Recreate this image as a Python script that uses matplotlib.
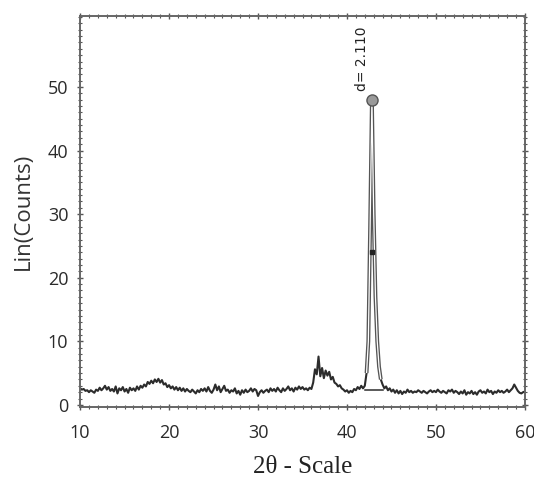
import numpy as np
import matplotlib
matplotlib.use("Agg")
import matplotlib.pyplot as plt
from matplotlib.ticker import MultipleLocator

# XRD scan, 10-60 deg 2theta, 0.2 deg step
two_theta = np.linspace(10, 60, 251)
counts = [
    2.6, 2.4, 2.5, 2.2, 2.3,   # 10
    2.0, 2.3, 2.1, 1.9, 2.4,   # 11
    2.2, 2.7, 2.3, 2.6, 3.0,   # 12
    2.4, 2.8, 2.2, 2.5, 2.1,   # 13
    2.9, 1.8, 2.6, 2.3, 2.8,   # 14
    2.1, 2.5, 1.9, 2.7, 2.3,   # 15
    2.6, 2.2, 2.9, 2.4, 3.0,   # 16
    2.7, 3.2, 2.9, 3.6, 3.3,   # 17
    3.8, 3.4, 4.0, 3.6, 4.1,   # 18
    3.5, 3.9, 3.2, 3.4, 2.8,   # 19
    3.1, 2.6, 2.9, 2.4, 2.8,   # 20
    2.3, 2.7, 2.2, 2.6, 2.1,   # 21
    2.5, 2.2, 2.0, 2.4, 2.1,   # 22
    1.8, 2.3, 2.0, 2.5, 2.2,   # 23
    2.6, 2.1, 2.8, 2.2, 1.9,   # 24
    2.4, 3.2, 2.3, 2.9, 2.0,   # 25
    2.5, 3.0, 2.2, 2.4, 1.9,   # 26
    2.3, 2.1, 2.6, 1.8, 2.2,   # 27
    1.6, 2.3, 1.9, 2.4, 2.0,   # 28
    2.2, 2.6, 2.1, 2.5, 2.3,   # 29
    1.4, 2.0, 2.3, 1.9, 2.2,   # 30
    2.4, 2.0, 2.6, 2.2, 2.5,   # 31
    2.1, 2.7, 2.3, 2.0, 2.6,   # 32
    2.2, 2.5, 2.9, 2.3, 2.6,   # 33
    2.1, 2.7, 2.4, 2.9, 2.5,   # 34
    2.8, 2.4, 2.6, 2.3, 2.7,   # 35
    2.5, 3.5, 5.6, 4.8, 7.6,   # 36
    4.5, 5.8, 4.2, 5.4, 4.6,   # 37
    5.2, 4.0, 4.4, 3.5, 3.3,   # 38
    2.9, 3.1, 2.6, 2.4, 2.1,   # 39
    2.3, 1.9, 2.2, 2.0, 2.5,   # 40
    2.3, 2.8, 2.5, 3.0, 2.6,   # 41
    3.0, 5.0, 10.0, 28.0, 48.0,  # 42
    30.0, 17.0, 10.0, 6.0, 4.0,  # 43
    3.2, 2.6, 2.9, 2.3, 2.6,   # 44
    2.1, 2.4, 1.9, 2.3, 1.8,   # 45
    2.2, 1.7, 2.1, 1.9, 2.4,   # 46
    2.0, 2.2, 1.9, 2.1, 2.0,   # 47
    2.3, 2.1, 1.9, 2.2, 2.0,   # 48
    1.8, 2.1, 2.3, 2.0, 2.2,   # 49
    2.0, 2.4, 2.1, 1.9, 2.2,   # 50
    2.0, 1.8, 2.3, 2.1, 2.4,   # 51
    1.9, 2.2, 2.0, 1.7, 2.1,   # 52
    1.8, 2.3, 1.6, 2.0, 1.8,   # 53
    2.2, 1.7, 2.0, 1.6, 2.1,   # 54
    2.3, 1.9, 2.1, 1.8, 2.4,   # 55
    2.0, 2.2, 1.7, 2.1, 1.9,   # 56
    2.3, 2.0, 2.2, 1.9, 2.1,   # 57
    2.4, 2.0, 2.3, 2.6, 3.2,   # 58
    2.7, 2.2, 1.9, 1.8, 2.0,   # 59
    2.1,
]
counts = np.array(counts)

# background line under the main reflection
peak_bg_x = [42.0, 44.0]
peak_bg_y = [2.4, 2.4]
d_label = "d= 2.110"

fig = plt.figure(figsize=(5.34, 4.78), dpi=100)
ax = fig.add_axes([0.150, 0.149, 0.833, 0.818])

line_col = "#2c2c2c"
ax.plot(two_theta, counts, color=line_col, lw=1.5)

# peak drawn as outline
pk = (two_theta >= 42.1) & (two_theta <= 43.9)
ax.plot(two_theta[pk], counts[pk], color="#555555", lw=2.8, solid_capstyle="butt")
ax.plot(two_theta[pk], counts[pk], color="white", lw=0.9, solid_capstyle="butt")
ax.plot(peak_bg_x, peak_bg_y, color=line_col, lw=1.1)

i = int(np.argmax(counts))
ax.plot(two_theta[i], counts[i], "o", ms=8, mfc="#9a9a9a", mec="#555555", mew=1.0)
ax.plot(two_theta[i], counts[i] / 2, "s", ms=3, color="#222222")
ax.annotate(d_label, xy=(two_theta[i], counts[i]), xytext=(-7, 6),
            textcoords="offset points", rotation=90, ha="center", va="bottom",
            fontsize=10, family="DejaVu Sans", color="#222222")

ax.set_xlim(10, 60)
ax.set_ylim(-0.3, 61.2)
ax.set_xticks([10, 20, 30, 40, 50, 60])
ax.set_yticks([0, 10, 20, 30, 40, 50])
ax.xaxis.set_minor_locator(MultipleLocator(1))
ax.yaxis.set_minor_locator(MultipleLocator(1))
ax.tick_params(which="both", direction="inout", top=True, right=True,
               colors="#555555", labelcolor="#2a2a2a")
ax.tick_params(which="major", length=5, width=1.0, labelsize=13)
ax.tick_params(axis="x", which="major", pad=10)
ax.tick_params(axis="y", which="major", pad=6)
ax.tick_params(which="minor", length=3, width=0.8)
for lab in ax.get_xticklabels() + ax.get_yticklabels():
    lab.set_family("Open Sans")

for s in ax.spines.values():
    s.set_color("#666666")
    s.set_linewidth(1.4)

ax.set_xlabel("2θ - Scale", family="Liberation Serif", fontsize=18,
              color="#222222", labelpad=10)
ax.set_ylabel("Lin(Counts)", family="Open Sans", fontsize=16,
              color="#333333", labelpad=10)

fig.savefig("out.png", dpi=100)
